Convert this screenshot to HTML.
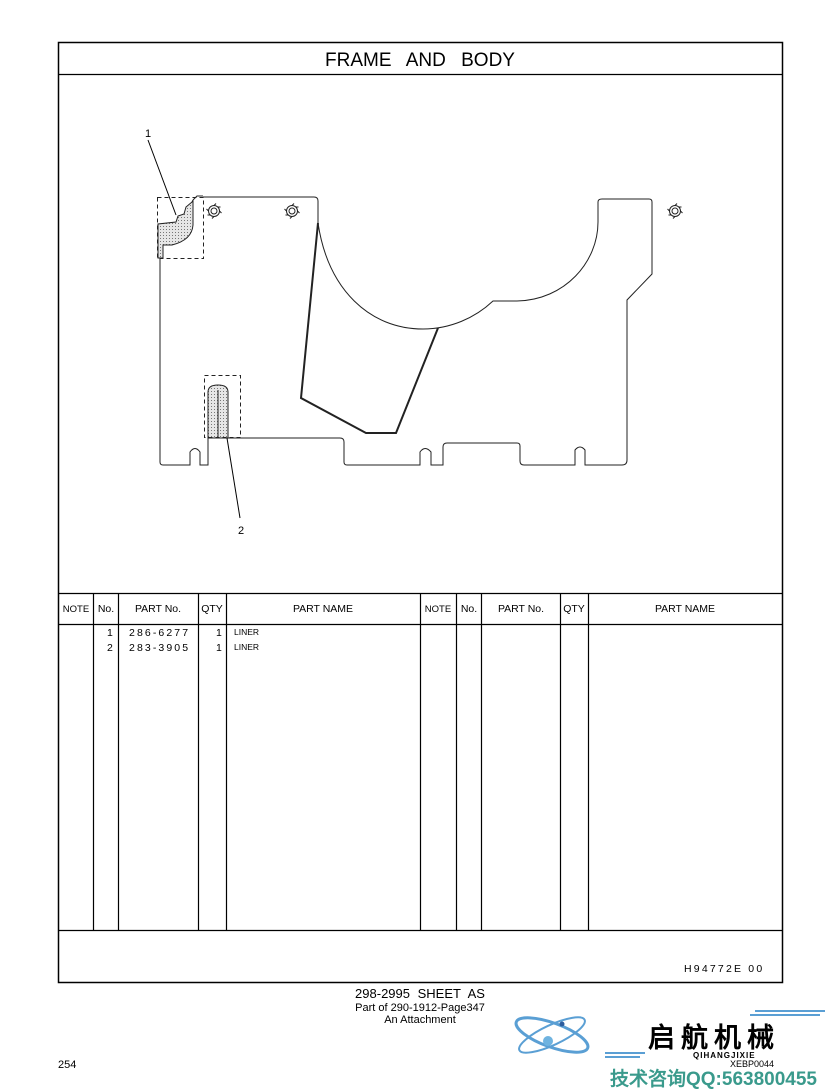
<!DOCTYPE html>
<html><head><meta charset="utf-8"><style>
body{margin:0;background:#fff;}
svg{display:block;}
text{font-family:"Liberation Sans",Arial,sans-serif;fill:#000;}
</style></head><body>
<svg width="840" height="1089" viewBox="0 0 840 1089" xmlns="http://www.w3.org/2000/svg">
<defs>
<pattern id="dots" width="3" height="3" patternUnits="userSpaceOnUse">
<rect width="3" height="3" fill="#e6e6e6"/><rect x="1" y="1" width="1" height="1" fill="#777"/>
</pattern>
<g id="bolt" fill="none" stroke="#222" stroke-width="1">
<circle r="3"/><circle r="5.5"/>
<path d="M0,-5.5 l2,-2 M5.5,0 l2,2 M0,5.5 l-2,2 M-5.5,0 l-2,-2 M4,-4 l2.5,0 M-4,4 l-2.5,0"/>
</g>
</defs>
<rect x="58.5" y="42.5" width="724" height="940" fill="none" stroke="#000" stroke-width="1.5"/>
<line x1="58" y1="74.5" x2="782" y2="74.5" stroke="#000" stroke-width="1.2"/>
<text x="420" y="66" font-size="19" text-anchor="middle" word-spacing="10">FRAME  AND  BODY</text>
<g fill="none" stroke="#222" stroke-width="1">
<path d="M203,197 L314,197 Q318,197 318,201 L318,223 C328,290 370,329 423,329 C450,329 475,318 493,301 L517,301 C565,300 598,262 598,222 L598,202 Q598,199 602,199 L649,199 Q652,199 652,202 L652,274 L627,300 L627,460 Q627,465 622,465 L585,465 L585,450 Q580,444 575,450 L575,465 L524,465 Q520,465 520,461 L520,446 Q520,443 517,443 L447,443 Q443,443 443,447 L443,465 L431,465 L431,452 Q425,445 420,452 L420,465 L347,465 Q344,465 344,462 L344,442 Q344,438 340,438 L235,438"/>
<path d="M208,438 L208,465 L200,465 L200,452 Q195,445 190,452 L190,465 L163,465 Q160,465 160,462 L160,258"/>
<path d="M318,223 L301,398 L366,433 L396,433 L438,328" stroke-width="2"/>
</g>
<path d="M192,202 L186,207 L184,214 L178,216 L176,222 L158,224 L158,258 L163,258 L163,245 L172,245 Q192,240 193,225 L193,200 Z" fill="url(#dots)" stroke="#222" stroke-width="1"/>
<path d="M193,200 L197,196 L203,196" fill="none" stroke="#222"/>
<rect x="157.5" y="197.5" width="46" height="61" fill="none" stroke="#222" stroke-dasharray="4,3"/>
<path d="M208,438 L208,392 Q208,385 218,385 Q228,385 228,392 L228,438 Z" fill="url(#dots)" stroke="#222"/>
<line x1="218" y1="390" x2="218" y2="438" stroke="#222"/>
<rect x="204.5" y="375.5" width="36" height="62" fill="none" stroke="#222" stroke-dasharray="4,3"/>
<line x1="208" y1="438" x2="240" y2="438" stroke="#222"/>
<use href="#bolt" x="214" y="211"/>
<use href="#bolt" x="292" y="211"/>
<use href="#bolt" x="675" y="211"/>
<line x1="148" y1="140" x2="176" y2="215" stroke="#000"/>
<text x="148" y="137" font-size="11" text-anchor="middle">1</text>
<line x1="227" y1="438" x2="240" y2="518" stroke="#000"/>
<text x="241" y="534" font-size="11" text-anchor="middle">2</text>
<g stroke="#000" stroke-width="1.2">
<line x1="58" y1="593.5" x2="782" y2="593.5"/>
<line x1="58" y1="624.5" x2="782" y2="624.5"/>
<line x1="58" y1="930.5" x2="782" y2="930.5"/>
<line x1="93.5" y1="593" x2="93.5" y2="930"/>
<line x1="118.5" y1="593" x2="118.5" y2="930"/>
<line x1="198.5" y1="593" x2="198.5" y2="930"/>
<line x1="226.5" y1="593" x2="226.5" y2="930"/>
<line x1="420.5" y1="593" x2="420.5" y2="930"/>
<line x1="456.5" y1="593" x2="456.5" y2="930"/>
<line x1="481.5" y1="593" x2="481.5" y2="930"/>
<line x1="560.5" y1="593" x2="560.5" y2="930"/>
<line x1="588.5" y1="593" x2="588.5" y2="930"/>
</g>
<g font-size="10.5" text-anchor="middle">
<text x="76" y="612" font-size="9.5">NOTE</text><text x="106" y="612">No.</text><text x="158" y="612">PART No.</text><text x="212" y="612">QTY</text><text x="323" y="612">PART NAME</text>
<text x="438" y="612" font-size="9.5">NOTE</text><text x="469" y="612">No.</text><text x="521" y="612">PART No.</text><text x="574" y="612">QTY</text><text x="685" y="612">PART NAME</text>
</g>
<g font-size="10.5">
<text x="107" y="636">1</text><text x="129" y="636" letter-spacing="2.1">286-6277</text><text x="216" y="636">1</text><text x="234" y="635" font-size="8.5">LINER</text>
<text x="107" y="651">2</text><text x="129" y="651" letter-spacing="2.1">283-3905</text><text x="216" y="651">1</text><text x="234" y="650" font-size="8.5">LINER</text>
</g>
<text x="684" y="972" font-size="10.5" letter-spacing="2.2">H94772E  00</text>
<text x="420" y="998" font-size="13" text-anchor="middle" word-spacing="4">298-2995  SHEET AS</text>
<text x="420" y="1011" font-size="11" text-anchor="middle">Part of 290-1912-Page347</text>
<text x="420" y="1023" font-size="11" text-anchor="middle">An Attachment</text>
<text x="58" y="1068" font-size="11">254</text>
<g fill="none" stroke="#5a9fd4" stroke-width="3">
<ellipse cx="552" cy="1035" rx="38" ry="12" transform="rotate(20 552 1035)"/>
<ellipse cx="552" cy="1035" rx="36" ry="10" transform="rotate(-25 552 1035)" stroke-width="2"/>
</g>
<circle cx="548" cy="1041" r="5" fill="#6fb3e0"/>
<circle cx="562" cy="1024" r="2.5" fill="#2d5d9e"/>
<path d="M605,1053 L645,1053 M605,1057 L640,1057 M755,1011 L825,1011 M750,1015 L820,1015" stroke="#5a9fd4" stroke-width="2"/>
<text x="648" y="1047" font-size="27" font-family="'Noto Sans CJK SC',sans-serif" letter-spacing="6" font-weight="bold" fill="#222">启航机械</text>
<text x="693" y="1058" font-size="8" fill="#5a9fd4" font-weight="bold" letter-spacing="1">QIHANGJIXIE</text>
<text x="730" y="1067" font-size="9" fill="#888">XEBP0044</text>
<text x="610" y="1085" font-size="19" font-family="'Liberation Sans','Noto Sans CJK SC',sans-serif" font-weight="bold" style="fill:#3a9a8c">技术咨询QQ:563800455</text>
</svg>
</body></html>
